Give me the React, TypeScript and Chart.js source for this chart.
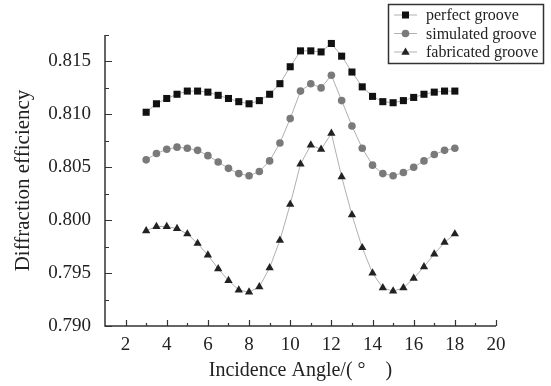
import React, { useEffect, useRef } from "react";
import { Chart, registerables } from "chart.js";

Chart.register(...registerables);

const angles = [3, 3.5, 4, 4.5, 5, 5.5, 6, 6.5, 7, 7.5, 8, 8.5, 9, 9.5, 10, 10.5, 11, 11.5, 12, 12.5, 13, 13.5, 14, 14.5, 15, 15.5, 16, 16.5, 17, 17.5, 18];

const perfectGroove = [0.8102, 0.8110, 0.8115, 0.8119, 0.8122, 0.8122, 0.8121, 0.8118, 0.8115, 0.8112, 0.8110, 0.8113, 0.8119, 0.8129, 0.8145, 0.8160, 0.8160, 0.8159, 0.8167, 0.8155, 0.8140, 0.8126, 0.8117, 0.8112, 0.8111, 0.8113, 0.8116, 0.8119, 0.8121, 0.8122, 0.8122];

const simulatedGroove = [0.8057, 0.8063, 0.8067, 0.8069, 0.8068, 0.8066, 0.8061, 0.8055, 0.8049, 0.8044, 0.8042, 0.8046, 0.8056, 0.8073, 0.8096, 0.8122, 0.8129, 0.8125, 0.8137, 0.8113, 0.8089, 0.8068, 0.8052, 0.8044, 0.8042, 0.8045, 0.8050, 0.8056, 0.8062, 0.8066, 0.8068];

const fabricatedGroove = [0.7990, 0.7994, 0.7994, 0.7992, 0.7987, 0.7978, 0.7967, 0.7954, 0.7943, 0.7934, 0.7932, 0.7937, 0.7955, 0.7981, 0.8015, 0.8053, 0.8071, 0.8067, 0.8082, 0.8041, 0.8005, 0.7974, 0.7950, 0.7936, 0.7933, 0.7936, 0.7945, 0.7956, 0.7968, 0.7979, 0.7987];

const seriesLabels = ["perfect groove", "simulated groove", "fabricated groove"];

const xMajorTicks = [2, 4, 6, 8, 10, 12, 14, 16, 18, 20];
const xMinorTicks = [3, 5, 7, 9, 11, 13, 15, 17, 19];
const yMajorTicks = [0.79, 0.795, 0.8, 0.805, 0.81, 0.815];
const yMinorTicks = [0.7925, 0.7975, 0.8025, 0.8075, 0.8125, 0.8175];

const xTitle = "Incidence Angle/(\u00a0°\u3000)";
const yTitle = "Diffraction efficiency";

const FONT = '"Liberation Serif", "Times New Roman", serif';
const AXIS_COLOR = "#333";

const axesPlugin = {
  id: "customAxes",
  afterDraw(chart: any) {
    const { ctx, chartArea, scales } = chart;
    const { left, right, top, bottom } = chartArea;
    const xs = scales.x;
    const ys = scales.y;
    ctx.save();
    ctx.strokeStyle = AXIS_COLOR;
    ctx.lineWidth = 1.5;
    ctx.beginPath();
    ctx.moveTo(left, top);
    ctx.lineTo(left, bottom);
    ctx.lineTo(right, bottom);
    ctx.stroke();
    ctx.lineWidth = 1.2;
    ctx.beginPath();
    xMajorTicks.forEach((v) => {
      const px = Math.round(xs.getPixelForValue(v)) + 0.5;
      ctx.moveTo(px, bottom);
      ctx.lineTo(px, bottom - 6);
    });
    xMinorTicks.forEach((v) => {
      const px = Math.round(xs.getPixelForValue(v)) + 0.5;
      ctx.moveTo(px, bottom);
      ctx.lineTo(px, bottom - 3);
    });
    yMajorTicks.forEach((v) => {
      const py = Math.round(ys.getPixelForValue(v)) + 0.5;
      ctx.moveTo(left, py);
      ctx.lineTo(left + 7, py);
    });
    yMinorTicks.forEach((v) => {
      const py = Math.round(ys.getPixelForValue(v)) + 0.5;
      ctx.moveTo(left, py);
      ctx.lineTo(left + 4, py);
    });
    ctx.stroke();
    ctx.restore();
  },
};

function drawMarker(ctx: CanvasRenderingContext2D, style: string, x: number, y: number, color: string) {
  ctx.fillStyle = color;
  ctx.beginPath();
  if (style === "rect") {
    ctx.rect(x - 3.5, y - 3.5, 7, 7);
  } else if (style === "circle") {
    ctx.arc(x, y, 3.8, 0, Math.PI * 2);
  } else {
    ctx.moveTo(x, y - 4.6);
    ctx.lineTo(x + 4.2, y + 2.8);
    ctx.lineTo(x - 4.2, y + 2.8);
    ctx.closePath();
  }
  ctx.fill();
}

const legendPlugin = {
  id: "customLegend",
  afterDraw(chart: any) {
    const { ctx } = chart;
    ctx.save();
    ctx.strokeStyle = AXIS_COLOR;
    ctx.lineWidth = 1.5;
    ctx.strokeRect(388.5, 4.5, 155, 59);
    ctx.font = `16px ${FONT}`;
    ctx.textBaseline = "middle";
    ctx.textAlign = "left";
    chart.data.datasets.forEach((ds: any, i: number) => {
      const y = 15 + i * 18.5;
      ctx.strokeStyle = ds.borderColor;
      ctx.lineWidth = 1;
      ctx.beginPath();
      ctx.moveTo(394, y);
      ctx.lineTo(417, y);
      ctx.stroke();
      drawMarker(ctx, ds.pointStyle, 405.5, y, ds.pointBackgroundColor);
      ctx.fillStyle = "#222";
      ctx.fillText(ds.label, 426, y + 1);
    });
    ctx.restore();
  },
};

export default function App() {
  const canvasRef = useRef<HTMLCanvasElement | null>(null);

  useEffect(() => {
    if (!canvasRef.current) return;
    const mk = (label: string, data: number[], style: string, color: string, radius: number) => ({
      label,
      data: data.map((v, i) => ({ x: angles[i], y: v })),
      borderColor: "#b0b0b0",
      borderWidth: 1,
      pointStyle: style,
      pointRadius: radius,
      pointBackgroundColor: color,
      pointBorderColor: color,
      pointBorderWidth: 0,
      showLine: true,
      fill: false,
      tension: 0,
    });
    const chart = new Chart(canvasRef.current, {
      type: "scatter",
      data: {
        datasets: [
          mk(seriesLabels[0], perfectGroove, "rect", "#111", 5),
          mk(seriesLabels[1], simulatedGroove, "circle", "#7a7a7a", 3.8),
          mk(seriesLabels[2], fabricatedGroove, "triangle", "#222", 4.8),
        ],
      },
      options: {
        animation: false,
        responsive: true,
        maintainAspectRatio: false,
        layout: { padding: { top: 35, right: 55, left: 0, bottom: 0 } },
        plugins: { legend: { display: false }, tooltip: { enabled: false } },
        scales: {
          x: {
            type: "linear",
            min: 1,
            max: 20,
            grid: { display: false, drawTicks: false },
            border: { display: false },
            afterBuildTicks: (s: any) => {
              s.ticks = xMajorTicks.map((v) => ({ value: v }));
            },
            afterFit: (s: any) => {
              s.height = 60;
            },
            ticks: {
              color: "#222",
              font: { family: FONT, size: 19 },
              padding: 8,
              maxRotation: 0,
              autoSkip: false,
              callback: (v: any) => String(v),
            },
            title: {
              display: true,
              text: xTitle,
              color: "#222",
              font: { family: FONT, size: 20 },
              padding: { top: 0, bottom: 3 },
            },
          },
          y: {
            type: "linear",
            min: 0.79,
            max: 0.8175,
            grid: { display: false, drawTicks: false },
            border: { display: false },
            afterBuildTicks: (s: any) => {
              s.ticks = yMajorTicks.map((v) => ({ value: v }));
            },
            afterFit: (s: any) => {
              s.width = 105;
            },
            ticks: {
              color: "#222",
              font: { family: FONT, size: 19 },
              padding: 14,
              autoSkip: false,
              callback: (v: any) => Number(v).toFixed(3),
            },
            title: {
              display: true,
              text: yTitle,
              color: "#222",
              font: { family: FONT, size: 21 },
              padding: { top: 11, bottom: 0 },
            },
          },
        },
      },
      plugins: [axesPlugin, legendPlugin],
    } as any);
    return () => chart.destroy();
  }, []);

  return (
    <div style={{ position: "fixed", left: 0, top: 0, width: 551, height: 386, background: "#fff" }}>
      <canvas ref={canvasRef} />
    </div>
  );
}
